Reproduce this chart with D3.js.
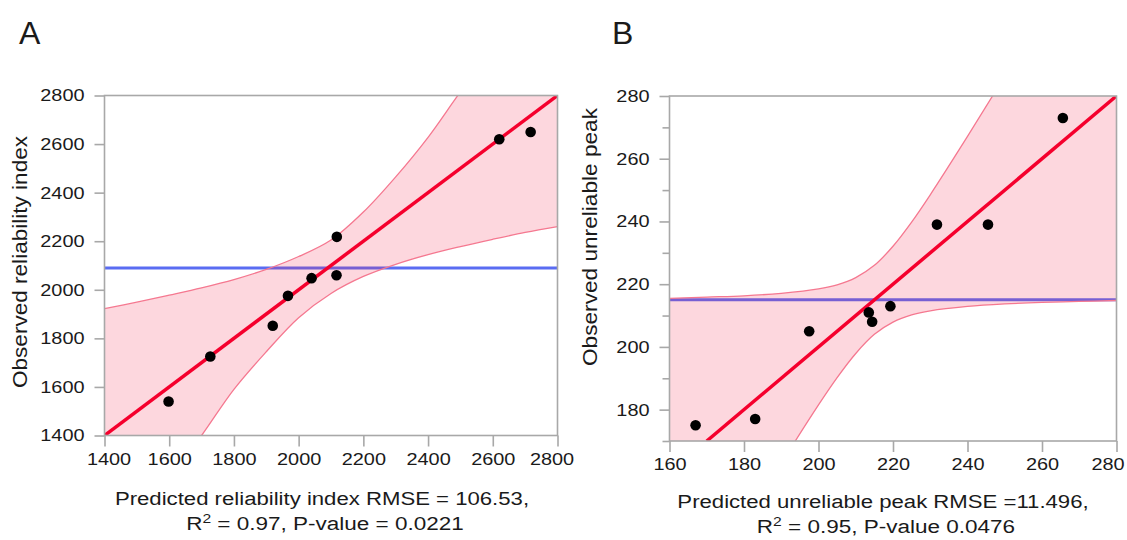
<!DOCTYPE html>
<html><head><meta charset="utf-8">
<script src="https://cdn.jsdelivr.net/npm/d3@7"></script>
<style>
html,body{margin:0;padding:0;background:#fff;}
svg text{font-family:"Liberation Sans",Arial,Helvetica,sans-serif;fill:#1a1a1a;}
</style></head>
<body><svg id="c" width="1127" height="540"></svg>
<script>
// ---------- Panel A data ----------
const aPredicted = [1598, 1727, 1920, 1967, 2040, 2117, 2118, 2620, 2717];
const aObserved  = [1540, 1725, 1852, 1975, 2048, 2060, 2218, 2620, 2650];
const aFitX = [1400, 2800];
const aFitY = [1400, 2800];
const aMean = 2090;
const aBandX     = [1400, 1500, 1600, 1700, 1800, 1900, 2000, 2100, 2200, 2300, 2400, 2500, 2600, 2700, 2800];
const aBandUpper = [1922, 1949, 1978, 2008, 2042, 2084, 2137, 2205, 2320, 2465, 2628, 2815, 2990, 3160, 3335];
const aBandLower = [ 879, 1051, 1222, 1400, 1590, 1745, 1885, 1985, 2055, 2105, 2145, 2178, 2208, 2236, 2260];
const aTicks = [1400, 1600, 1800, 2000, 2200, 2400, 2600, 2800];
const aYTitle = "Observed reliability index";
const aCaption1 = "Predicted reliability index RMSE = 106.53,";
const aCaption2 = ["R", "2", " = 0.97, P-value = 0.0221"];

// ---------- Panel B data ----------
const bPredicted = [167, 183, 197.5, 213.5, 214.4, 219.3, 231.8, 245.5, 265.6];
const bObserved  = [175, 177, 205, 211, 208, 213, 239, 239, 273];
const bFitX = [170, 280];
const bFitY = [170, 280];
const bMean = 215;
const bBandX     = [160, 170, 180, 190, 200, 205, 210, 215, 220, 225, 230, 240, 250, 260, 270, 280];
const bBandUpper = [215.5, 215.9, 216.3, 217.1, 218.5, 219.8, 222.1, 226.0, 232.1, 239.8, 248.5, 267.1, 286.3, 305.9, 325.5, 345.2];
const bBandLower = [104.5, 124.2, 143.7, 162.9, 181.5, 190.2, 197.9, 204.0, 207.9, 210.2, 211.5, 212.9, 213.7, 214.2, 214.5, 214.8];
const bXTicks = [160, 180, 200, 220, 240, 260, 280];
const bYTicks = [180, 200, 220, 240, 260, 280];
const bYMinor = [170, 190, 210, 230, 250, 270];
const bYTitle = "Observed unreliable peak";
const bCaption1 = "Predicted unreliable peak RMSE =11.496,";
const bCaption2 = ["R", "2", " = 0.95, P-value 0.0476"];

const svg = d3.select("#c");

function stretchText(sel, factor) {
  sel.each(function () {
    const len = this.getComputedTextLength();
    d3.select(this).attr("textLength", len * factor).attr("lengthAdjust", "spacingAndGlyphs");
  });
}

function panel(cfg) {
  const g = svg.append("g");
  const x = d3.scaleLinear().domain(cfg.xDomain).range([cfg.left, cfg.right]);
  const y = d3.scaleLinear().domain(cfg.yDomain).range([cfg.bottom, cfg.top]);
  const clipId = "clip" + cfg.id;
  svg.append("defs").append("clipPath").attr("id", clipId)
    .append("rect").attr("x", cfg.left).attr("y", cfg.top)
    .attr("width", cfg.right - cfg.left).attr("height", cfg.bottom - cfg.top);

  const plot = g.append("g").attr("clip-path", `url(#${clipId})`);

  // mean line
  plot.append("line")
    .attr("x1", x(cfg.xDomain[0])).attr("x2", x(cfg.xDomain[1]))
    .attr("y1", y(cfg.mean)).attr("y2", y(cfg.mean))
    .attr("stroke", "#5a6cf2").attr("stroke-width", 3);

  // confidence band
  const band = cfg.bandX.map((v, i) => ({x: v, u: cfg.bandU[i], l: cfg.bandL[i]}));
  const area = d3.area().x(d => x(d.x)).y0(d => y(d.l)).y1(d => y(d.u)).curve(d3.curveCatmullRom);
  plot.append("path").datum(band).attr("d", area)
    .attr("fill", "rgb(242,40,80)").attr("fill-opacity", 0.19);
  const lineU = d3.line().x(d => x(d.x)).y(d => y(d.u)).curve(d3.curveCatmullRom);
  const lineL = d3.line().x(d => x(d.x)).y(d => y(d.l)).curve(d3.curveCatmullRom);
  [lineU, lineL].forEach(lf => plot.append("path").datum(band).attr("d", lf)
    .attr("fill", "none").attr("stroke", "#f57890").attr("stroke-width", 1.3));

  // fit line
  const fit = cfg.fitX.map((v, i) => [v, cfg.fitY[i]]);
  plot.append("path").datum(fit)
    .attr("d", d3.line().x(d => x(d[0])).y(d => y(d[1])))
    .attr("stroke", "#f5002d").attr("stroke-width", 3.5).attr("fill", "none");

  // points
  plot.selectAll("circle.pt").data(cfg.px).join("circle")
    .attr("class", "pt")
    .attr("cx", d => x(d)).attr("cy", (d, i) => y(cfg.py[i])).attr("r", 5.3).attr("fill", "#000");

  // frame
  g.append("rect").attr("x", cfg.left).attr("y", cfg.top)
    .attr("width", cfg.right - cfg.left).attr("height", cfg.bottom - cfg.top)
    .attr("fill", "none").attr("stroke", "#a8a8a8").attr("stroke-width", 1.6);

  // axes
  const xAx = g.append("g").attr("transform", `translate(0,${cfg.bottom})`)
    .call(d3.axisBottom(x).tickValues(cfg.xTicks).tickSize(11).tickPadding(6).tickFormat(d3.format("d")));
  const yAx = g.append("g").attr("transform", `translate(${cfg.left},0)`)
    .call(d3.axisLeft(y).tickValues(cfg.yTicks).tickSize(10).tickPadding(10).tickFormat(d3.format("d")));
  [xAx, yAx].forEach(a => {
    a.select(".domain").remove();
    a.selectAll(".tick line").attr("stroke", "#a8a8a8").attr("stroke-width", 1.6);
    a.selectAll(".tick text").attr("font-size", 17).attr("fill", "#1a1a1a")
      .style("font-family", '"Liberation Sans", Arial, sans-serif');
  });
  stretchText(xAx.selectAll(".tick text"), 1.17);
  stretchText(yAx.selectAll(".tick text"), 1.17);
  // keep edge labels inside, as in the reference
  const xt = xAx.selectAll(".tick text").nodes();
  if (cfg.firstShift) d3.select(xt[0]).attr("dx", cfg.firstShift);
  if (cfg.lastShift) d3.select(xt[xt.length - 1]).attr("dx", cfg.lastShift);
  if (cfg.yMinor) {
    const yMin = g.append("g").attr("transform", `translate(${cfg.left},0)`)
      .call(d3.axisLeft(y).tickValues(cfg.yMinor).tickSize(7).tickFormat(""));
    yMin.select(".domain").remove();
    yMin.selectAll(".tick line").attr("stroke", "#a8a8a8").attr("stroke-width", 1.6);
  }

  // y title
  const yt = g.append("text")
    .attr("transform", `translate(${cfg.yTitleX},${cfg.yTitleY}) rotate(-90)`)
    .attr("text-anchor", "middle").attr("font-size", 21).text(cfg.yTitle);
  yt.attr("textLength", cfg.yTitleLen).attr("lengthAdjust", "spacingAndGlyphs");

  // captions
  const c1 = g.append("text").attr("x", cfg.capX).attr("y", cfg.capY1)
    .attr("text-anchor", "middle").attr("font-size", 18).text(cfg.cap1);
  stretchText(c1, 1.23);
  const c2 = g.append("text").attr("x", cfg.capX + 3).attr("y", cfg.capY2)
    .attr("text-anchor", "middle").attr("font-size", 18);
  c2.append("tspan").text(cfg.cap2[0]);
  c2.append("tspan").attr("font-size", 12.5).attr("dy", -7).text(cfg.cap2[1]);
  c2.append("tspan").attr("dy", 7).text(cfg.cap2[2]);
  stretchText(c2, 1.25);

  // panel letter
  g.append("text").attr("x", cfg.letterX).attr("y", 44).attr("font-size", 32)
    .text(cfg.letter);
}

panel({
  id: "A", letter: "A", letterX: 19,
  left: 104.5, right: 557.5, top: 95.5, bottom: 435.5,
  xDomain: [1400, 2800], yDomain: [1400, 2800],
  mean: aMean, bandX: aBandX, bandU: aBandUpper, bandL: aBandLower,
  fitX: aFitX, fitY: aFitY, px: aPredicted, py: aObserved,
  xTicks: aTicks, yTicks: aTicks, firstShift: 4, lastShift: -6,
  yTitle: aYTitle, yTitleX: 27, yTitleY: 262, yTitleLen: 252,
  cap1: aCaption1, cap2: aCaption2, capX: 322, capY1: 505, capY2: 530
});
panel({
  id: "B", letter: "B", letterX: 612,
  left: 669.5, right: 1116.5, top: 96, bottom: 441,
  xDomain: [160, 280], yDomain: [170, 280],
  mean: bMean, bandX: bBandX, bandU: bBandUpper, bandL: bBandLower,
  fitX: bFitX, fitY: bFitY, px: bPredicted, py: bObserved,
  xTicks: bXTicks, yTicks: bYTicks, yMinor: bYMinor, lastShift: -9,
  yTitle: bYTitle, yTitleX: 597, yTitleY: 237, yTitleLen: 258,
  cap1: bCaption1, cap2: bCaption2, capX: 883, capY1: 508, capY2: 533
});
</script></body></html>
